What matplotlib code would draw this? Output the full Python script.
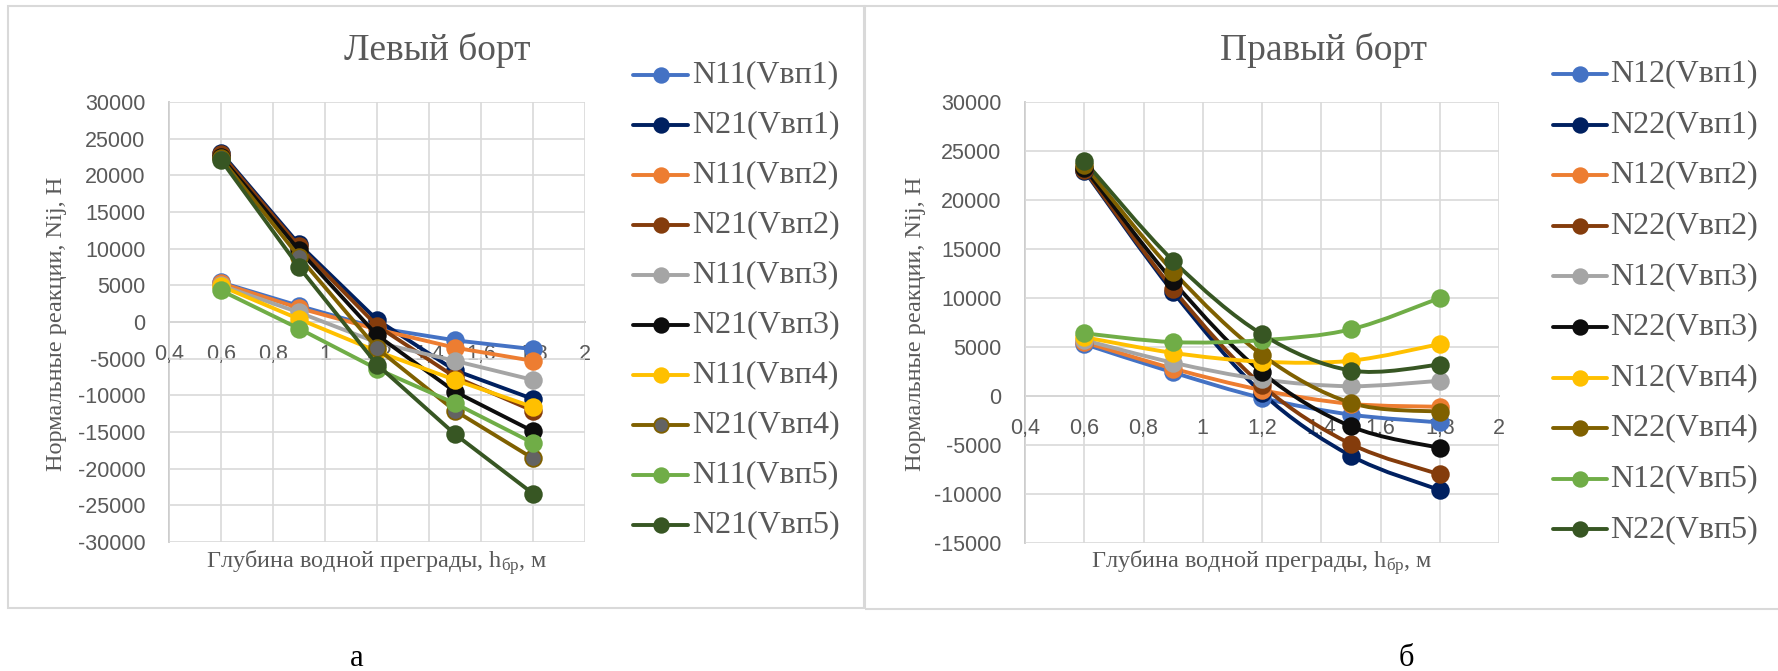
import matplotlib
matplotlib.use("Agg")
import matplotlib.pyplot as plt
import numpy as np
from matplotlib.lines import Line2D
from matplotlib.path import Path
from matplotlib.patches import PathPatch
from matplotlib.ticker import MultipleLocator, FuncFormatter

plt.rcParams['mathtext.fontset'] = 'custom'
plt.rcParams['mathtext.rm'] = 'Liberation Serif'
plt.rcParams['mathtext.it'] = 'Liberation Serif:italic'

# Water obstacle depth, m
depth = [0.6, 0.9, 1.2, 1.5, 1.8]

# Left side: normal reactions N11 / N21 for five speeds
left_labels = ["N11(Vвп1)", "N21(Vвп1)", "N11(Vвп2)", "N21(Vвп2)", "N11(Vвп3)",
               "N21(Vвп3)", "N11(Vвп4)", "N21(Vвп4)", "N11(Vвп5)", "N21(Vвп5)"]
n11_v1 = [5400, 2200, -800, -2500, -3700]
n21_v1 = [23100, 10600, 300, -6600, -10500]
n11_v2 = [5300, 1900, -1000, -3500, -5300]
n21_v2 = [22900, 10300, -500, -7500, -12100]
n11_v3 = [5000, 1300, -2800, -5300, -7900]
n21_v3 = [22500, 9800, -1800, -9500, -14900]
n11_v4 = [4900, 400, -4000, -7900, -11600]
n21_v4 = [22300, 8900, -3600, -12100, -18600]
n11_v5 = [4300, -900, -6400, -11100, -16500]
n21_v5 = [22100, 7500, -5800, -15300, -23400]
left_values = [n11_v1, n21_v1, n11_v2, n21_v2, n11_v3,
               n21_v3, n11_v4, n21_v4, n11_v5, n21_v5]

# Right side: normal reactions N12 / N22 for five speeds
right_labels = ["N12(Vвп1)", "N22(Vвп1)", "N12(Vвп2)", "N22(Vвп2)", "N12(Vвп3)",
                "N22(Vвп3)", "N12(Vвп4)", "N22(Vвп4)", "N12(Vвп5)", "N22(Vвп5)"]
n12_v1 = [5300, 2400, -200, -1900, -2700]
n22_v1 = [23000, 10600, 300, -6100, -9600]
n12_v2 = [5500, 2800, 600, -800, -1100]
n22_v2 = [23100, 10900, 1100, -4900, -8000]
n12_v3 = [5700, 3400, 1700, 1000, 1550]
n22_v3 = [23300, 11700, 2400, -3100, -5300]
n12_v4 = [6000, 4400, 3500, 3600, 5300]
n22_v4 = [23600, 12700, 4200, -700, -1600]
n12_v5 = [6400, 5500, 5700, 6800, 10000]
n22_v5 = [24000, 13800, 6300, 2600, 3200]
right_values = [n12_v1, n22_v1, n12_v2, n22_v2, n12_v3,
                n22_v3, n12_v4, n22_v4, n12_v5, n22_v5]

colors = ["#4472C4", "#002060", "#ED7D31", "#843C0C", "#A5A5A5",
          "#0D0D0D", "#FFC000", "#7F6000", "#70AD47", "#375623"]

W, H = 1778, 671
fig = plt.figure(figsize=(W / 100, H / 100), dpi=100)
fig.patch.set_facecolor("white")

TXT = "#595959"
GRID = "#d9d9d9"
LW = 2.8
MS = 12


def px_rect(x0, y0, x1, y1):
    return [x0 / W, 1 - y1 / H, (x1 - x0) / W, (y1 - y0) / H]


def fx(x):
    return x / W


def fy(y):
    return 1 - y / H


def comma(v, pos=None):
    return f"{v:g}".replace(".", ",")


def smooth_path(xs, ys):
    pts = np.column_stack([xs, ys]).astype(float)
    n = len(pts)
    verts = [tuple(pts[0])]
    codes = [Path.MOVETO]
    for i in range(n - 1):
        p0 = pts[i - 1] if i > 0 else pts[i]
        p1, p2 = pts[i], pts[i + 1]
        p3 = pts[i + 2] if i + 2 < n else pts[i + 1]
        c1 = p1 + (p2 - p0) / 6.0
        c2 = p2 - (p3 - p1) / 6.0
        verts += [tuple(c1), tuple(c2), tuple(p2)]
        codes += [Path.CURVE4] * 3
    return Path(verts, codes)


def style_axes(ax, ymin, ymax):
    ax.set_xlim(0.4, 2.0)
    ax.set_ylim(ymin, ymax)
    ax.xaxis.set_major_locator(MultipleLocator(0.2))
    ax.yaxis.set_major_locator(MultipleLocator(5000))
    ax.xaxis.set_major_formatter(FuncFormatter(comma))
    ax.yaxis.set_major_formatter(FuncFormatter(lambda v, p: f"{int(round(v))}"))
    ax.set_axisbelow(True)
    ax.grid(True, color=GRID, linewidth=1.2)
    for s in ("top", "right"):
        ax.spines[s].set_visible(False)
    for s in ("left", "bottom"):
        ax.spines[s].set_color("#c8c8c8")
        ax.spines[s].set_linewidth(1.3)
        ax.spines[s].set_zorder(0.3)
    ax.spines["bottom"].set_position(("data", 0))
    ax.tick_params(axis="both", length=0, colors=TXT, labelsize=15.5)
    ax.tick_params(axis="y", pad=17)
    ax.tick_params(axis="x", pad=16)
    for lab in ax.get_xticklabels() + ax.get_yticklabels():
        lab.set_fontfamily("Liberation Sans")


def draw_legend(labels, x_line0, x_line1, x_text, y0, pitch, marker_faces):
    for i, (lab, c) in enumerate(zip(labels, colors)):
        y = fy(y0 + i * pitch)
        fig.add_artist(Line2D([fx(x_line0), fx(x_line1)], [y, y], color=c,
                              linewidth=LW, transform=fig.transFigure,
                              solid_capstyle="round"))
        fig.add_artist(Line2D([fx((x_line0 + x_line1) / 2)], [y], color=c,
                              marker="o", markersize=10.5,
                              markerfacecolor=marker_faces[i], markeredgecolor=c,
                              markeredgewidth=1.3, linestyle="none",
                              transform=fig.transFigure))
        fig.text(fx(x_text), y, lab, fontsize=23, family="Liberation Serif",
                 color=TXT, va="center", ha="left")


# Chart frames
for (x0, y0, x1, y1) in [(8, 6, 864, 608), (865, 6, 1790, 609)]:
    fig.add_artist(plt.Rectangle((fx(x0), fy(y1)), fx(x1 - x0), (y1 - y0) / H,
                                 fill=False, edgecolor=GRID, linewidth=1.5,
                                 transform=fig.transFigure))

# ---- Left side ----
axL = fig.add_axes(px_rect(169, 102, 585, 542))
style_axes(axL, -30000, 30000)
left_faces = list(colors)
left_faces[7] = "#636363"
for vals, c, face in zip(left_values, colors, left_faces):
    axL.plot(depth, vals, color=c, linewidth=LW, marker="o", markersize=MS,
             markerfacecolor=face, markeredgecolor=c, markeredgewidth=1.3,
             solid_joinstyle="round")

# ---- Right side ----
axR = fig.add_axes(px_rect(1025, 102, 1499, 543))
style_axes(axR, -15000, 30000)
for vals, c in zip(right_values, colors):
    axR.add_patch(PathPatch(smooth_path(depth, vals), fill=False, edgecolor=c,
                            linewidth=LW, capstyle="round", joinstyle="round"))
    axR.plot(depth, vals, linestyle="none", marker="o", markersize=MS,
             markerfacecolor=c, markeredgecolor=c, markeredgewidth=1.3)

# Titles and axis labels
serif = "Liberation Serif"
fig.text(fx(437), fy(50), "Левый борт", fontsize=27, family=serif, color=TXT,
         ha="center", va="center")
fig.text(fx(1323), fy(50), "Правый борт", fontsize=27, family=serif, color=TXT,
         ha="center", va="center")
ylab = "Нормальные реакции, Nij, Н"
fig.text(fx(57), fy(324), ylab, fontsize=17.5, family=serif, color=TXT,
         rotation=90, ha="center", va="center")
fig.text(fx(915), fy(324), ylab, fontsize=17.5, family=serif, color=TXT,
         rotation=90, ha="center", va="center")
xlab = r"Глубина водной преграды, h$_{\mathrm{бр}}$, м"
fig.text(fx(377), fy(563), xlab, fontsize=17.5, family=serif, color=TXT,
         ha="center", va="center")
fig.text(fx(1262), fy(563), xlab, fontsize=17.5, family=serif, color=TXT,
         ha="center", va="center")

# Legends
draw_legend(left_labels, 633, 688, 692, 75, 50, left_faces)
draw_legend(right_labels, 1553, 1607, 1610, 74, 50.6, colors)

# Panel captions
fig.text(fx(357), fy(658), "а", fontsize=22, family=serif, color="black",
         ha="center", va="center")
fig.text(fx(1406), fy(658), "б", fontsize=22, family=serif, color="black",
         ha="center", va="center")

fig.savefig("out.png", dpi=100, facecolor="white")
